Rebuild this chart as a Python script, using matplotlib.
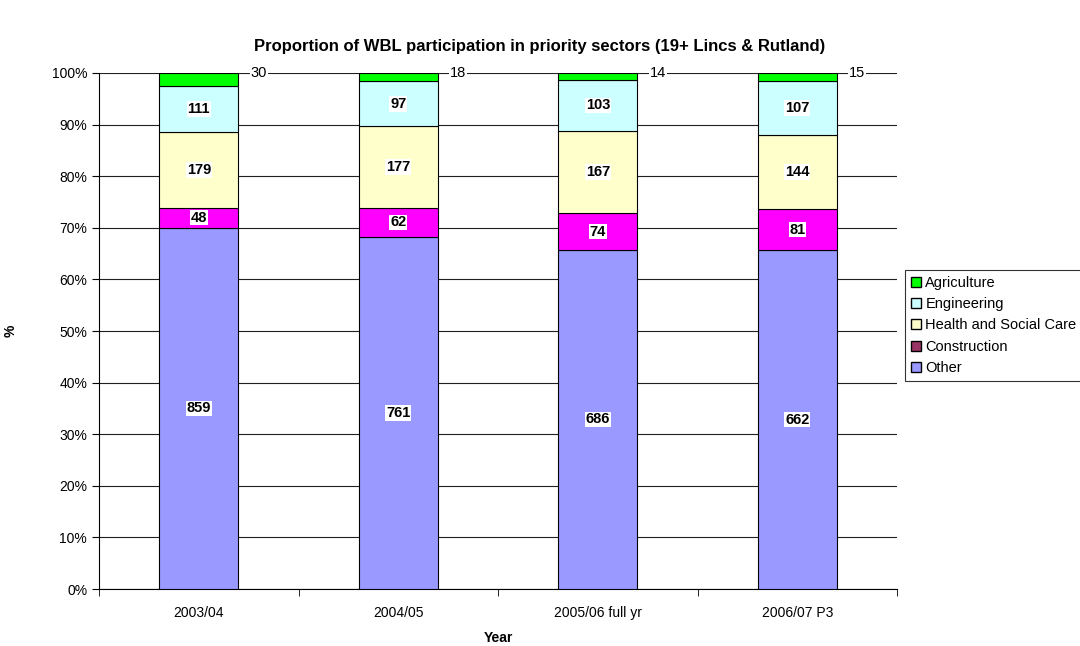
import numpy as np
import matplotlib.pyplot as plt
from matplotlib.patches import Patch

plt.rcParams['font.family'] = ['Liberation Sans', 'DejaVu Sans']

years = ['2003/04', '2004/05', '2005/06 full yr', '2006/07 P3']
other = [859, 761, 686, 662]
construction = [48, 62, 74, 81]
health = [179, 177, 167, 144]
engineering = [111, 97, 103, 107]
agriculture = [30, 18, 14, 15]

series = [
    ('Other', other, '#9999FF'),
    ('Construction', construction, '#FF00FF'),
    ('Health and Social Care', health, '#FFFFCC'),
    ('Engineering', engineering, '#CCFFFF'),
    ('Agriculture', agriculture, '#00FF00'),
]
legend_colors = {'Construction': '#993366'}

fig = plt.figure(figsize=(10.8, 6.46), dpi=100)
ax = fig.add_axes([0.0917, 0.0882, 0.739, 0.7988])

totals = np.sum([s[1] for s in series], axis=0)
x = np.arange(len(years))
bottom = np.zeros(len(years))
w = 0.396
for name, vals, col in series:
    pct = np.array(vals) / totals * 100
    ax.bar(x, pct, w, bottom=bottom, color=col, edgecolor='black', linewidth=0.8, zorder=3)
    for i, v in enumerate(vals):
        yc = bottom[i] + pct[i] / 2
        if name == 'Agriculture':
            ax.text(x[i] + 0.3, 100, str(v), ha='center', va='center', fontsize=10.5,
                    bbox=dict(facecolor='white', edgecolor='none', pad=0.5), zorder=4)
        else:
            ax.text(x[i], yc, str(v), ha='center', va='center', fontsize=10.5, fontweight='bold',
                    bbox=dict(facecolor='white', edgecolor='none', pad=0.5), zorder=4)
    bottom += pct

ax.set_xlim(-0.5, len(years) - 0.5)
ax.set_ylim(0, 100)
ax.set_yticks(np.arange(0, 101, 10))
ax.set_yticklabels([f'{t}%' for t in range(0, 101, 10)], fontsize=10)
ax.yaxis.grid(True, color='#202020', linewidth=0.8, zorder=0)
ax.set_axisbelow(True)
ax.set_xticks(x)
ax.set_xticklabels(years, fontsize=10)
ax.tick_params(axis='x', length=0, pad=12)
ax.set_xticks(np.arange(-0.5, len(years)), minor=True)
ax.tick_params(axis='x', which='minor', length=5, direction='out')
ax.tick_params(axis='y', length=5, direction='out')
for s in ['top', 'right']:
    ax.spines[s].set_visible(False)

ax.set_xlabel('Year', fontsize=10, fontweight='bold', labelpad=8)
ax.set_ylabel('%', fontsize=10, fontweight='bold')
ax.yaxis.set_label_coords(-0.102, 0.5)
fig.suptitle('Proportion of WBL participation in priority sectors (19+ Lincs & Rutland)',
             fontsize=12, fontweight='bold', x=0.5, y=0.94)

handles = [Patch(facecolor=legend_colors.get(n, c), edgecolor='black', label=n)
           for n, v, c in series[::-1]]
leg = fig.legend(handles=handles, loc='upper left', bbox_to_anchor=(0.838, 0.582),
                 fontsize=10.5, frameon=True, fancybox=False, handlelength=0.7,
                 handleheight=0.7, handletextpad=0.3, borderpad=0.4, labelspacing=0.5,
                 borderaxespad=0)
leg.get_frame().set_edgecolor('black')
leg.get_frame().set_linewidth(0.8)

fig.savefig('out.png', dpi=100)
